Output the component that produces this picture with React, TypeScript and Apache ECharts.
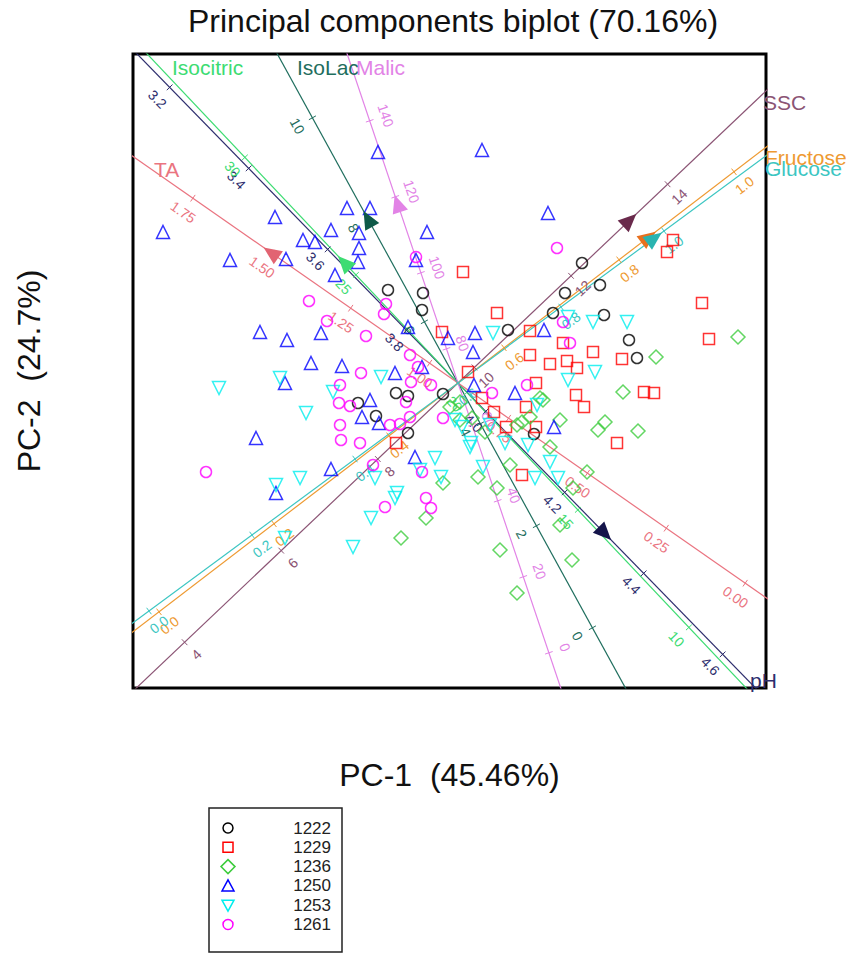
import React, { useEffect, useRef } from 'react';
import * as echarts from 'echarts';

const cultivars = ['1222', '1229', '1236', '1250', '1253', '1261'];

// PC scores, [PC-1, PC-2]
const scores1222 = [
    [1.24, 1.20], [1.42, 0.98], [1.07, 0.90], [0.95, 0.70], [1.46, 0.68], [1.71, 0.43], [1.79, 0.25],
    [0.50, 0.53], [0.76, -0.51], [-0.70, 0.93], [-0.35, 0.90], [-0.36, 0.73], [-1.00, -0.20],
    [-0.62, -0.10], [-0.50, -0.13], [-0.82, -0.33], [-0.50, -0.50], [-0.15, -0.11],
];
const scores1229 = [
    [0.05, 1.11], [0.39, 0.70], [0.72, 0.52], [1.05, 0.40], [0.72, 0.28], [0.92, 0.19], [1.09, 0.22],
    [1.19, 0.15], [1.35, 0.31], [1.64, 0.24], [2.44, 0.80], [2.51, 0.44], [1.86, -0.09], [1.96, -0.10],
    [0.10, 0.11], [0.78, 0.00], [0.24, -0.15], [1.18, -0.12], [1.26, -0.24], [0.68, -0.24], [0.36, -0.29],
    [0.48, -0.44], [0.78, -0.44], [1.59, -0.60], [0.64, -0.92], [2.15, 1.43], [2.09, 1.31], [-0.16, 0.51],
    [-0.62, -0.60],
];
const scores1236 = [
    [2.80, 0.46], [1.98, 0.26], [1.65, -0.09], [0.85, -0.17], [1.80, -0.48], [1.47, -0.39], [1.40, -0.47],
    [1.02, -0.37], [0.92, -0.64], [0.64, -0.39], [0.52, -0.82], [0.20, -0.94], [1.29, -0.89], [-0.08, -0.24],
    [0.02, -0.19], [0.02, -0.37], [0.14, -0.35], [0.82, -0.15], [0.59, -0.42], [0.39, -1.05], [-0.15, -1.00],
    [-0.32, -1.35], [-0.57, -1.55], [1.02, -1.42], [0.42, -1.67], [1.14, -1.77], [0.59, -2.10], [1.15, -1.05],
    [0.27, -0.49], [0.72, -0.34],
];
const scores1250 = [
    [-0.80, 2.31], [0.24, 2.33], [0.90, 1.70], [-1.11, 1.75], [-0.88, 1.75], [-1.83, 1.66], [-2.95, 1.51],
    [-1.27, 1.53], [-0.99, 1.50], [-0.31, 1.51], [-1.55, 1.43], [-1.43, 1.41], [-0.99, 1.35], [-2.28, 1.23],
    [-1.72, 1.24], [-0.42, 1.23], [-1.00, 1.21], [-1.23, 1.08], [-1.98, 0.51], [-1.71, 0.43], [-1.37, 0.50],
    [-1.47, 0.20], [-1.16, 0.17], [-1.73, 0.00], [-0.50, 0.56], [-0.63, 0.10], [-0.36, 0.16], [-0.88, -0.17],
    [-0.96, -0.34], [-0.79, -0.40], [-2.02, -0.55], [-1.27, -0.86], [-0.43, -0.74], [0.17, 0.50], [0.15, 0.31],
    [0.16, -0.02], [0.86, 0.53], [0.57, -0.10], [0.96, -0.44], [-0.10, 0.45], [-1.82, -1.10],
];
const scores1253 = [
    [-2.39, -0.05], [-1.78, 0.05], [-1.52, -0.30], [-1.25, -0.09], [-0.77, 0.06], [-1.82, -1.02], [-1.58, -0.95],
    [-0.23, -0.75], [-0.38, -0.87], [-0.17, -0.94], [-0.87, -1.35], [-1.05, -1.64], [-0.63, -1.15], [-0.83, -0.95],
    [0.35, 0.50], [1.10, 0.66], [1.35, 0.61], [1.69, 0.61], [1.37, 0.11], [1.10, 0.03], [0.79, -0.22],
    [0.13, -0.60], [0.70, -0.62], [0.47, -0.60], [0.25, -0.84], [0.92, -0.79], [0.77, -0.95], [1.00, -0.95],
    [0.04, -0.44], [0.12, -0.64], [-0.61, -1.10], [-1.73, -1.55], [-0.03, -0.37], [0.32, -0.42],
];
const scores1261 = [
    [-0.42, 1.26], [0.99, 1.35], [-1.49, 0.82], [-1.31, 0.62], [-0.92, 0.47], [-0.72, 0.79], [-0.74, 0.69],
    [-0.97, 0.10], [-1.18, -0.02], [-1.19, -0.20], [-1.08, -0.23], [-1.18, -0.42], [-1.17, -0.57], [-0.98, -0.60],
    [-0.58, -0.41], [-0.48, -0.34], [-2.52, -0.89], [-0.47, 0.01], [-0.27, -0.02], [-0.52, -0.19], [-0.15, -0.35],
    [-0.40, 0.16], [-0.48, 0.28], [-0.68, -0.42], [0.69, -0.02], [1.05, 0.61], [1.12, 0.40], [0.34, -0.10],
    [-0.36, -0.89], [-0.85, -0.82], [-0.73, -1.24], [-0.32, -1.15], [-0.27, -1.25],
];
const allScores = [scores1222, scores1229, scores1236, scores1250, scores1253, scores1261];

// calibrated biplot axes
const variables = ['pH', 'Isocitric', 'IsoLac', 'Malic', 'TA', 'SSC', 'Fructose', 'Glucose'];
// value of each variable at the origin
const axisCentre = [3.93, 20.4, 4.8, 71, 0.91, 9.66, 0.52, 0.6];
// shift in PC units for one unit of the variable
const axisShift = [
    [3.95, -4.05], [-0.222, 0.235], [-0.28, 0.51], [-0.0128, 0.038],
    [-3.156, 2.2], [0.483, 0.458], [5.75, 4.4], [5.15, 3.8],
];
const tickLabels = [
    ['3.2', '3.4', '3.6', '3.8', '4.0', '4.2', '4.4', '4.6'],
    ['10', '15', '20', '25', '30'],
    ['0', '2', '4', '6', '8', '10'],
    ['0', '20', '40', '60', '80', '100', '120', '140'],
    ['0.00', '0.25', '0.50', '0.75', '1.00', '1.25', '1.50', '1.75'],
    ['4', '6', '8', '10', '12', '14'],
    ['0.0', '0.2', '0.4', '0.6', '0.8', '1.0'],
    ['0.0', '0.2', '0.4', '0.6', '0.8', '1.0'],
];
const arrowValues = [4.3, 25.5, 8.0, 118, 1.5, 13.2, 0.85, 0.98];

const FONT = '"Liberation Sans", Arial, sans-serif';
const cultivarColors = ['#000000', '#ff0000', '#3ccc3c', '#0000ff', '#00eeee', '#ff00ff'];
const cultivarSymbols = ['circle', 'rect', 'diamond', 'triangle', 'triangle', 'circle'];
const cultivarRotate = [0, 0, 0, 0, 180, 0];
const cultivarSizes = [11, 11, 14, 13, 13, 11];
const axisColors = ['#2e2e6e', '#3ddc72', '#1f6e5e', '#e283e6', '#ea7480', '#8b5474', '#ee9a32', '#3cc6c2'];
const arrowColors = ['#14144a', '#3ddc72', '#0e5a48', '#e283e6', '#e26472', '#6a2a4c', '#e8701e', '#2ab4b0'];
const labelSide = [1, -1, -1, 1, -1, 1, 1, 1];
// axis names at the end of each line, in px
const namePos = [[750, 680], [172, 67], [297, 67], [356, 67], [154, 169], [763, 102], [765, 157], [765, 168]];

const at = (i: number, v: number) => [
    (v - axisCentre[i]) * axisShift[i][0],
    (v - axisCentre[i]) * axisShift[i][1],
];

const screenDir = (api: any, i: number) => {
    const o = api.coord([0, 0]);
    const q = api.coord(axisShift[i]);
    const dx = q[0] - o[0];
    const dy = q[1] - o[1];
    const l = Math.hypot(dx, dy);
    return [dx / l, dy / l];
};

const App: React.FC = () => {
    const chartRef = useRef<HTMLDivElement>(null);

    useEffect(() => {
        const chart = echarts.init(chartRef.current!, null, { renderer: 'svg' });

        const lineSeries = variables.map((name, i) => {
            const [ux, uy] = axisShift[i];
            const l = Math.hypot(ux, uy);
            return {
                type: 'line',
                name,
                data: [[-10 * ux / l, -10 * uy / l], [10 * ux / l, 10 * uy / l]],
                symbol: 'none',
                lineStyle: { color: axisColors[i], width: 1.2 },
                silent: true,
                z: 1,
            };
        });

        const tickSeries = variables.map((name, i) => ({
            type: 'custom',
            name: name + ' ticks',
            data: tickLabels[i].map((t) => at(i, parseFloat(t))),
            silent: true,
            z: 2,
            renderItem: (params: any, api: any) => {
                const p = api.coord([api.value(0), api.value(1)]);
                const [dx, dy] = screenDir(api, i);
                const nx = -dy;
                const ny = dx;
                let ang = Math.atan2(dy, dx);
                if (ang > Math.PI / 2) ang -= Math.PI;
                if (ang < -Math.PI / 2) ang += Math.PI;
                const s = labelSide[i];
                return {
                    type: 'group',
                    children: [
                        {
                            type: 'line',
                            shape: { x1: p[0] - nx * 4, y1: p[1] - ny * 4, x2: p[0] + nx * 4, y2: p[1] + ny * 4 },
                            style: { stroke: axisColors[i], lineWidth: 1 },
                        },
                        {
                            type: 'text',
                            x: p[0] + s * nx * 17,
                            y: p[1] + s * ny * 17,
                            rotation: -ang,
                            style: {
                                text: tickLabels[i][params.dataIndex],
                                fill: axisColors[i],
                                font: `14px ${FONT}`,
                                align: 'center',
                                verticalAlign: 'middle',
                            },
                        },
                    ],
                };
            },
        }));

        const scatterSeries = cultivars.map((name, g) => ({
            type: 'scatter',
            name,
            data: allScores[g],
            symbol: cultivarSymbols[g],
            symbolSize: cultivarSizes[g],
            symbolRotate: cultivarRotate[g],
            itemStyle: { color: 'rgba(0,0,0,0)', borderColor: cultivarColors[g], borderWidth: 1.5 },
            silent: true,
            z: 3,
        }));

        const arrowSeries = variables.map((name, i) => ({
            type: 'custom',
            name: name + ' arrow',
            data: [at(i, arrowValues[i])],
            silent: true,
            z: 4,
            renderItem: (params: any, api: any) => {
                const p = api.coord([api.value(0), api.value(1)]);
                const [dx, dy] = screenDir(api, i);
                const nx = -dy;
                const ny = dx;
                return {
                    type: 'polygon',
                    shape: {
                        points: [
                            [p[0] + dx * 10, p[1] + dy * 10],
                            [p[0] - dx * 8 + nx * 8, p[1] - dy * 8 + ny * 8],
                            [p[0] - dx * 8 - nx * 8, p[1] - dy * 8 - ny * 8],
                        ],
                    },
                    style: { fill: arrowColors[i] },
                };
            },
        }));

        const nameTexts = variables.map((name, i) => ({
            type: 'text',
            x: namePos[i][0],
            y: namePos[i][1],
            z: 10,
            style: {
                text: name,
                fill: axisColors[i],
                font: `21px ${FONT}`,
                align: 'left',
                verticalAlign: 'middle',
            },
        }));

        const legendChildren: any[] = [
            {
                type: 'rect',
                shape: { x: 0, y: 0, width: 133, height: 144 },
                style: { fill: '#fff', stroke: '#222', lineWidth: 1.5 },
            },
        ];
        cultivars.forEach((name, g) => {
            const cy = 20 + g * 19.3;
            const cx = 19;
            const style = { fill: 'none', stroke: cultivarColors[g], lineWidth: 1.5 };
            if (cultivarSymbols[g] === 'circle') {
                legendChildren.push({ type: 'circle', shape: { cx, cy, r: 5 }, style });
            } else if (cultivarSymbols[g] === 'rect') {
                legendChildren.push({ type: 'rect', shape: { x: cx - 5, y: cy - 5, width: 10, height: 10 }, style });
            } else if (cultivarSymbols[g] === 'diamond') {
                legendChildren.push({ type: 'polygon', shape: { points: [[cx, cy - 7], [cx + 7, cy], [cx, cy + 7], [cx - 7, cy]] }, style });
            } else {
                const d = cultivarRotate[g] ? -1 : 1;
                legendChildren.push({ type: 'polygon', shape: { points: [[cx, cy - 6 * d], [cx + 6, cy + 5 * d], [cx - 6, cy + 5 * d]] }, style });
            }
            legendChildren.push({
                type: 'text',
                x: 122,
                y: cy,
                style: { text: name, fill: '#222', font: `17px ${FONT}`, align: 'right', verticalAlign: 'middle' },
            });
        });

        const option: any = {
            animation: false,
            title: {
                text: 'Principal components biplot (70.16%)',
                left: 188,
                top: 5,
                padding: 0,
                textStyle: { fontSize: 32, fontWeight: 'normal', fontFamily: FONT, color: '#111' },
            },
            grid: {
                left: 133,
                top: 54,
                width: 633,
                height: 634,
                show: true,
                borderColor: '#000',
                borderWidth: 3,
                backgroundColor: 'transparent',
            },
            xAxis: {
                type: 'value',
                min: -3.25,
                max: 3.08,
                name: 'PC-1  (45.46%)',
                nameLocation: 'middle',
                nameGap: 71,
                nameTextStyle: { fontSize: 32, fontFamily: FONT, color: '#111' },
                axisLine: { show: false },
                axisTick: { show: false },
                axisLabel: { show: false },
                splitLine: { show: false },
            },
            yAxis: {
                type: 'value',
                min: -3.05,
                max: 3.29,
                name: 'PC-2  (24.7%)',
                nameLocation: 'middle',
                nameGap: 88,
                nameTextStyle: { fontSize: 32, fontFamily: FONT, color: '#111' },
                axisLine: { show: false },
                axisTick: { show: false },
                axisLabel: { show: false },
                splitLine: { show: false },
            },
            graphic: [
                ...nameTexts,
                { type: 'group', x: 209, y: 808, children: legendChildren },
            ],
            series: [...lineSeries, ...tickSeries, ...scatterSeries, ...arrowSeries],
        };

        chart.setOption(option);

        return () => {
            chart.dispose();
        };
    }, []);

    return (
        <div
            ref={chartRef}
            style={{ position: 'absolute', left: 0, top: 0, width: 846, height: 954 }}
        />
    );
};

export default App;
